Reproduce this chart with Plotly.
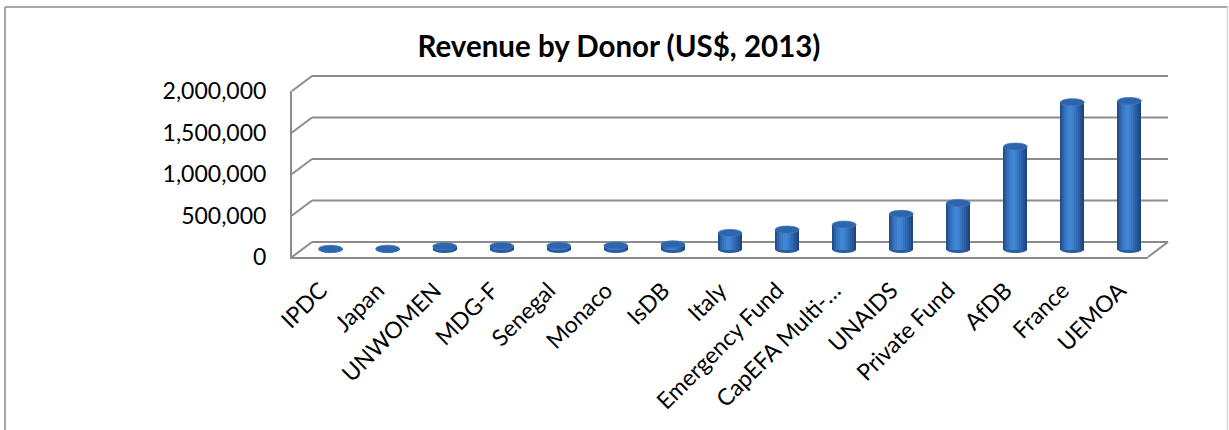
import plotly.graph_objects as go

# ---------------- data ----------------
donors = ["IPDC", "Japan", "UNWOMEN", "MDG-F", "Senegal", "Monaco", "IsDB", "Italy",
          "Emergency Fund", "CapEFA Multi-…", "UNAIDS", "Private Fund", "AfDB", "France", "UEMOA"]
revenue = [8000, 10000, 38000, 42000, 45000, 47000, 62000, 200000,
           240000, 300000, 430000, 560000, 1240000, 1775000, 1790000]
y_tick_vals = [0, 500000, 1000000, 1500000, 2000000]
y_tick_text = ["0", "500,000", "1,000,000", "1,500,000", "2,000,000"]

# ---------------- layout geometry (pixels) ----------------
W, H = 1229, 430
FRONT_L, FRONT_R = 292, 1148
FRONT_BOTTOM, FRONT_TOP = 257, 91
DX, DY = 20, 15               # depth offset of the back wall
BAR_W = 0.42                  # cylinder width in category units
PAD = 8                       # room below the cylinder axis so bottoms are not clipped
FONT = "Lato, 'Open Sans', sans-serif"
GRID = "#8c8c8c"

def fx(px):
    return px / W

def fy(py):
    return 1 - py / H

idx = list(range(len(donors)))
xr = [-0.5, len(donors) - 0.5]
yr = [0, 2000000]
units_per_px = (yr[1] - yr[0]) / (FRONT_BOTTOM - FRONT_TOP)

fig = go.Figure()

# invisible copies so that the front and back-wall subplots exist
for ax, ay in (("x", "y"), ("x2", "y2")):
    fig.add_trace(go.Bar(x=idx, y=revenue, xaxis=ax, yaxis=ay,
                         marker=dict(color="rgba(0,0,0,0)", line=dict(width=0)),
                         hoverinfo="skip", showlegend=False))

# cylinder body made of vertical strips to mimic the shading
strip_colors = ["#22508c", "#2c63a8", "#3571bd", "#3b7bca", "#4084d4", "#4086d6",
                "#3c7ecc", "#3673c0", "#3069b1", "#2a5ea2", "#245292", "#1e467c"]
n = len(strip_colors)
sw = BAR_W / n
for k, c in enumerate(strip_colors):
    fig.add_trace(go.Bar(
        x=idx, y=revenue, xaxis="x3", yaxis="y3",
        width=sw * 1.2 if k < n - 1 else sw,
        offset=-BAR_W / 2 + k * sw,
        marker=dict(color=c, line=dict(width=0)),
        hoverinfo="skip", showlegend=False,
    ))

shapes = []
for v in y_tick_vals:
    f = (v - yr[0]) / (yr[1] - yr[0])
    # back-wall gridline
    shapes.append(dict(type="line", xref="x2 domain", yref="y2 domain", layer="below",
                       x0=0, x1=1, y0=f, y1=f, line=dict(color=GRID, width=2)))
    # side-wall diagonal from the front axis to the back wall
    shapes.append(dict(type="line", xref="x domain", yref="y domain", layer="below",
                       xsizemode="pixel", ysizemode="pixel",
                       xanchor=0, yanchor=f, x0=0, x1=DX, y0=0, y1=DY,
                       line=dict(color=GRID, width=2)))
# floor right diagonal
shapes.append(dict(type="line", xref="x domain", yref="y domain", layer="below",
                   xsizemode="pixel", ysizemode="pixel",
                   xanchor=1, yanchor=0, x0=0, x1=DX, y0=0, y1=DY,
                   line=dict(color=GRID, width=2)))

# bottom and top ellipses of cylinders
for i, v in zip(idx, revenue):
    shapes.append(dict(type="circle", xref="x3", yref="y3", layer="below",
                       ysizemode="pixel", yanchor=0, y0=-3.5, y1=3.5,
                       x0=i - BAR_W / 2, x1=i + BAR_W / 2,
                       fillcolor="#2b5c9c", line=dict(width=0)))
    shapes.append(dict(type="circle", xref="x3", yref="y3", layer="above",
                       ysizemode="pixel", yanchor=v, y0=-3.5, y1=3.5,
                       x0=i - BAR_W / 2, x1=i + BAR_W / 2,
                       fillcolor="#2e64aa", line=dict(color="#3a78c4", width=0.8)))

# outer chart border
shapes.append(dict(type="line", xref="paper", yref="paper", x0=fx(5), x1=fx(5),
                   y0=-0.05, y1=fy(7), line=dict(color="#8a8a8a", width=1.5)))
shapes.append(dict(type="line", xref="paper", yref="paper", x0=fx(5), x1=fx(1228),
                   y0=fy(7), y1=fy(7), line=dict(color="#8a8a8a", width=1.5)))
shapes.append(dict(type="line", xref="paper", yref="paper", x0=fx(1227.5), x1=fx(1227.5),
                   y0=-0.05, y1=fy(7), line=dict(color="#d6d6d6", width=1.5)))

fig.update_layout(
    template="none",
    width=W, height=H,
    margin=dict(l=0, r=0, t=0, b=0, pad=0),
    paper_bgcolor="white", plot_bgcolor="rgba(0,0,0,0)",
    barmode="overlay", bargap=0,
    font=dict(family=FONT, color="black", size=23),
    title=dict(text="<b>Revenue by Donor (US$, 2013)</b>", x=fx(619), xanchor="center",
               y=fy(47), yanchor="middle", xref="paper", yref="paper",
               font=dict(family=FONT, size=29.5, color="black")),
    showlegend=False,
    hovermode=False,
    shapes=shapes,
    # front face (tick labels, front edges)
    xaxis=dict(domain=[fx(FRONT_L), fx(FRONT_R)], range=xr, anchor="y",
               tickmode="array", tickvals=idx, ticktext=donors, tickangle=-45,
               showgrid=False, zeroline=False, showline=True, linecolor=GRID, linewidth=2,
               ticks="", ticklabelstandoff=9, tickfont=dict(size=23),
               automargin=False, fixedrange=True),
    yaxis=dict(domain=[fy(FRONT_BOTTOM), fy(FRONT_TOP)], range=yr, anchor="x",
               tickmode="array", tickvals=y_tick_vals, ticktext=y_tick_text,
               showgrid=False, zeroline=False, showline=True, linecolor=GRID, linewidth=2,
               ticks="", ticklabelstandoff=19, automargin=False, fixedrange=True),
    # back wall
    xaxis2=dict(domain=[fx(FRONT_L + DX), fx(FRONT_R + DX)], range=xr, anchor="y2",
                visible=False, automargin=False, fixedrange=True),
    yaxis2=dict(domain=[fy(FRONT_BOTTOM - DY), fy(FRONT_TOP - DY)], range=yr, anchor="x2",
                visible=False, automargin=False, fixedrange=True),
    # mid-depth (cylinders)
    xaxis3=dict(domain=[fx(FRONT_L + DX / 2), fx(FRONT_R + DX / 2)], range=xr, anchor="y3",
                visible=False, automargin=False, fixedrange=True),
    yaxis3=dict(domain=[fy(FRONT_BOTTOM - DY / 2 + PAD), fy(FRONT_TOP - DY / 2)],
                range=[yr[0] - PAD * units_per_px, yr[1]],
                anchor="x3", visible=False, automargin=False, fixedrange=True),
)

fig.write_html("out.html",
               config={"displayModeBar": False, "staticPlot": True},
               post_script="document.body.style.margin='0';document.body.style.overflow='hidden';")
